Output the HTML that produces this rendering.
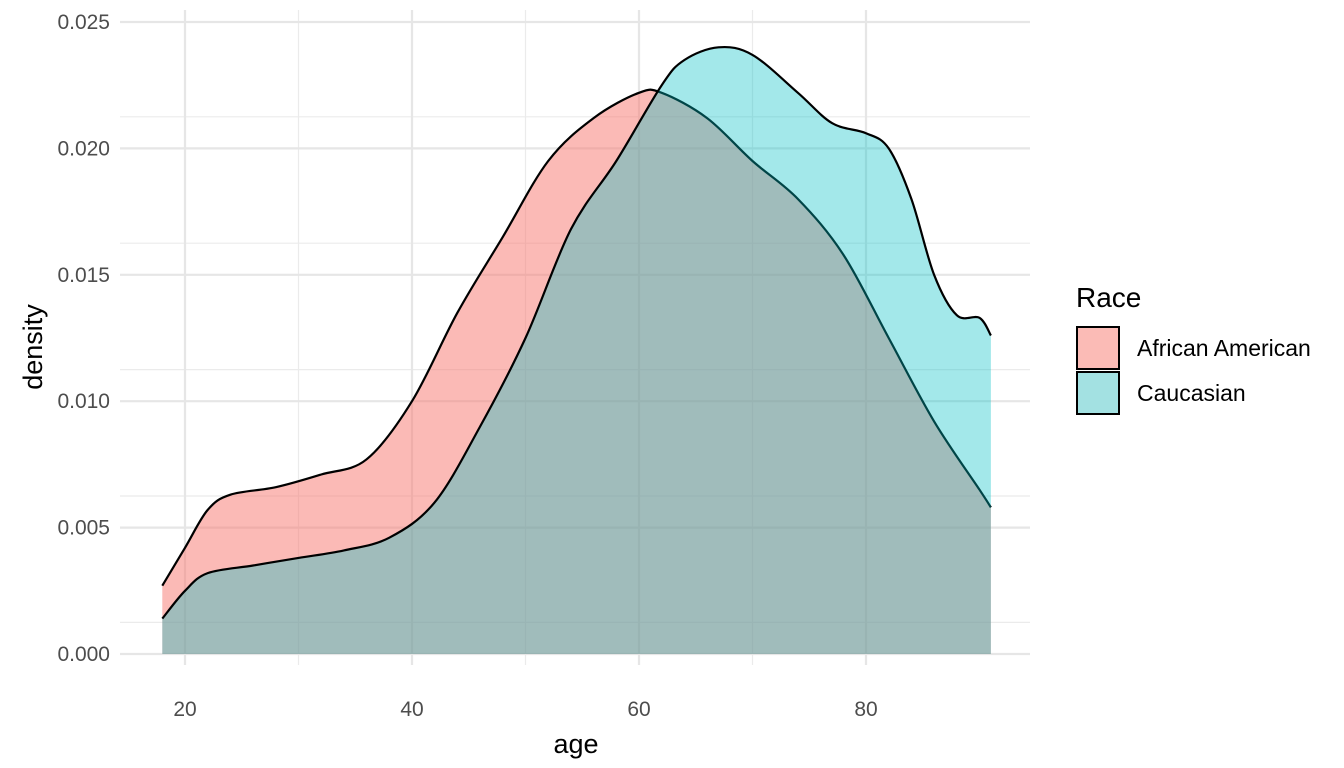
<!DOCTYPE html>
<html><head><meta charset="utf-8"><style>
html,body{margin:0;padding:0;background:#fff;}
svg{display:block;font-family:"Liberation Sans",sans-serif;}
</style></head><body>
<svg width="1344" height="768" xmlns="http://www.w3.org/2000/svg">
<g stroke="#ebebeb" stroke-width="1.2">
<line x1="120" x2="1030" y1="622.4" y2="622.4"/><line x1="120" x2="1030" y1="496" y2="496"/><line x1="120" x2="1030" y1="369.6" y2="369.6"/><line x1="120" x2="1030" y1="243.2" y2="243.2"/><line x1="120" x2="1030" y1="116.8" y2="116.8"/>
<line y1="10" y2="665" x1="298.5" x2="298.5"/><line y1="10" y2="665" x1="525.5" x2="525.5"/><line y1="10" y2="665" x1="752.5" x2="752.5"/>
</g>
<g stroke="#e6e6e6" stroke-width="2.2">
<line x1="120" x2="1030" y1="654" y2="654"/><line x1="120" x2="1030" y1="527.6" y2="527.6"/><line x1="120" x2="1030" y1="401.2" y2="401.2"/><line x1="120" x2="1030" y1="274.8" y2="274.8"/><line x1="120" x2="1030" y1="148.4" y2="148.4"/><line x1="120" x2="1030" y1="22" y2="22"/>
<line y1="10" y2="665" x1="185" x2="185"/><line y1="10" y2="665" x1="412" x2="412"/><line y1="10" y2="665" x1="639" x2="639"/><line y1="10" y2="665" x1="866" x2="866"/>
</g>
<path id="aaF" fill="#F8766D" fill-opacity="0.5"/>
<path id="aaL" fill="none" stroke="#000" stroke-width="2.2" stroke-linejoin="round"/>
<path id="caF" fill="#00BFC4" fill-opacity="0.36"/>
<path id="caL" fill="none" stroke="#000" stroke-width="2.2" stroke-linejoin="round"/>
<g fill="#4d4d4d" font-size="21" text-anchor="end">
<text x="110" y="661">0.000</text><text x="110" y="534.6">0.005</text><text x="110" y="408.2">0.010</text><text x="110" y="281.8">0.015</text><text x="110" y="155.4">0.020</text><text x="110" y="29">0.025</text>
</g>
<g fill="#4d4d4d" font-size="21" text-anchor="middle">
<text x="185" y="716">20</text><text x="412" y="716">40</text><text x="639" y="716">60</text><text x="866" y="716">80</text>
</g>
<text x="576" y="753" font-size="27" text-anchor="middle" fill="#000">age</text>
<text transform="translate(42,347) rotate(-90)" font-size="27" text-anchor="middle" fill="#000">density</text>
<text x="1076" y="307" font-size="28" fill="#000">Race</text>
<rect x="1077" y="327" width="42" height="42" fill="#FBBBB6" stroke="#000" stroke-width="2"/>
<rect x="1077" y="372" width="42" height="42" fill="#A3E1E2" stroke="#000" stroke-width="2"/>
<text x="1137" y="356" font-size="23" fill="#000">African American</text>
<text x="1137" y="401" font-size="23" fill="#000">Caucasian</text>
</svg>
<script>
function cr(p){var d="M"+p[0][0]+","+p[0][1];for(var i=0;i<p.length-1;i++){var a=p[i-1]||p[i],b=p[i],c=p[i+1],e=p[i+2]||c;d+=" C"+(b[0]+(c[0]-a[0])/6)+","+(b[1]+(c[1]-a[1])/6)+" "+(c[0]-(e[0]-b[0])/6)+","+(c[1]-(e[1]-b[1])/6)+" "+c[0]+","+c[1];}return d;}
var aa=[[162.3,585.7],[185,547.8],[207.7,509.9],[230.4,494.7],[275.8,487.2],[321.2,474.5],[366.6,459.3],[412,401.2],[457.4,312.7],[502.8,236.9],[548.2,161],[593.6,118.1],[639,92.8],[661.7,92.8],[707.1,118.1],[752.5,161],[797.9,199],[843.3,254.6],[888.7,338],[934.1,421.4],[979.5,489.7],[990.9,507.4]];
var ca=[[162.3,618.6],[185,590.8],[207.7,573.1],[253.1,565.5],[298.5,557.9],[343.9,550.4],[389.3,537.7],[434.7,502.3],[480.1,426.5],[525.5,338],[570.9,229.3],[616.3,161],[661.7,85.2],[684.4,60],[718.5,47.3],[752.5,54.9],[797.9,92.8],[832,123.1],[866,133.2],[888.7,148.4],[911.4,199],[934.1,274.8],[956.8,315.2],[979.5,317.8],[990.9,335.5]];
function set(id,v){document.getElementById(id).setAttribute("d",v);}
var a=cr(aa),c=cr(ca);
set("aaL",a);set("caL",c);
set("aaF",a+" L990.9,654 L162.3,654 Z");set("caF",c+" L990.9,654 L162.3,654 Z");
</script>
</body></html>
